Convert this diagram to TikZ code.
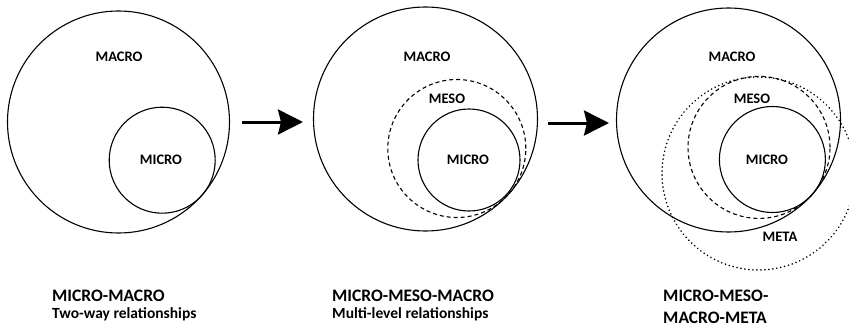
\documentclass[tikz,border=0pt]{standalone}
\usepackage{fontspec}
\setmainfont{Carlito}
\usepackage{tikz}
\usetikzlibrary{arrows.meta}
\tikzset{ring/.style={circle,draw=black,line width=1.1pt,inner sep=0pt,outer sep=0pt},bigarr/.style={-{Stealth[length=25pt,width=25pt,inset=3pt]},line width=3pt},lbl/.style={font=\fontsize{14.5}{16}\selectfont\bfseries,inner sep=0pt}}

\begin{document}
\begin{tikzpicture}[x=1pt,y=-1pt,mesoring/.style={ring,dash pattern=on 4pt off 3pt},metaring/.style={ring,line width=1.8pt,line cap=round,dash pattern=on 0.01pt off 4pt},title/.style={font=\fontsize{17.5}{20}\selectfont\bfseries,anchor=west,inner sep=0pt},sub/.style={font=\fontsize{15.5}{17}\selectfont\bfseries,anchor=west,inner sep=0pt}]
\clip (0,0) rectangle (849,329);
\fill[white] (0,0) rectangle (849,329);
% circles: x/y/radius/name/style
\foreach \x/\y/\r/\id/\st in {118.5/122/111/mac1/ring,162.2/160.2/53/mic1/ring,425.5/119/112/mac2/ring,456.8/148.5/69/mes2/mesoring,469/160/51/mic2/ring,758.5/173.5/96.5/met3/metaring,728.5/120/112/mac3/ring,759/147.4/71/mes3/mesoring,772.4/159.5/53/mic3/ring}{\node[\st,minimum size=2*\r] (\id) at (\x,\y) {};}
\foreach \x/\y/\id/\txt in {119/57/l1a/MACRO,161/160/l1b/MICRO,427/57/l2a/MACRO,447/99/l2b/MESO,468/160/l2c/MICRO,732/57/l3a/MACRO,752/99/l3b/MESO,767/160/l3c/MICRO,780/237/l3d/META}{\node[lbl] (\id) at (\x,\y) {\txt};}
\coordinate (a1s) at (242,122);
\coordinate (a1e) at (303,122);
\coordinate (a2s) at (548,123);
\coordinate (a2e) at (609,123);
\draw[bigarr] (a1s) -- (a1e);
\draw[bigarr] (a2s) -- (a2e);
\node[title] (t1) at (52,296) {MICRO-MACRO};
\node[sub] (s1) at (52,314) {Two-way relationships};
\node[title] (t2) at (332,296) {MICRO-MESO-MACRO};
\node[sub] (s2) at (332,314) {Multi-level relationships};
\node[title] (t3a) at (663,296) {MICRO-MESO-};
\node[title] (t3b) at (663,318) {MACRO-META};
\end{tikzpicture}
\end{document}
